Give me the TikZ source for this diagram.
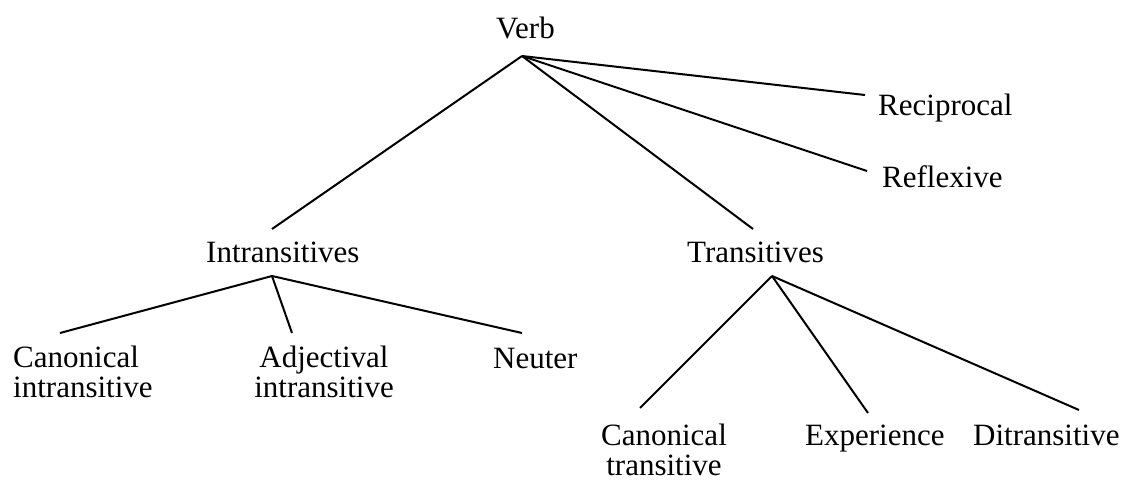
\documentclass[tikz,border=0pt]{standalone}
\usepackage{fontspec}
\setmainfont{Liberation Serif}
\begin{document}
\begin{tikzpicture}[x=1pt,y=-1pt,
  lbl/.style={inner sep=0pt, font=\fontsize{31}{30}\selectfont},
  edge/.style={line width=2pt}]
\useasboundingbox (0,0) rectangle (1126,482);
% labels
\node[lbl,anchor=base] (verb) at (525.5,38) {Verb};
\node[lbl,anchor=base west] (recip) at (878,115) {Reciprocal};
\node[lbl,anchor=base west] (refl) at (882,187) {Reflexive};
\node[lbl,anchor=base west] (intr) at (206,262) {Intransitives};
\node[lbl,anchor=base west] (trans) at (687,262) {Transitives};
\node[lbl,anchor=base west] (canint) at (13,367) {\begin{tabular}[t]{@{}l@{}}Canonical\\intransitive\end{tabular}};
\node[lbl,anchor=base] (adjint) at (324,367) {\begin{tabular}[t]{@{}c@{}}Adjectival\\intransitive\end{tabular}};
\node[lbl,anchor=base west] (neuter) at (493,368) {Neuter};
\node[lbl,anchor=base] (cantr) at (664,445) {\begin{tabular}[t]{@{}c@{}}Canonical\\transitive\end{tabular}};
\node[lbl,anchor=base west] (exper) at (805,445) {Experience};
\node[lbl,anchor=base west] (ditr) at (973,445) {Ditransitive};
% connector end points
\coordinate (v0) at (522,56);
\coordinate (intrT) at (272,229);
\coordinate (transT) at (753,229);
\coordinate (recipL) at (865,95);
\coordinate (reflL) at (867,171);
\coordinate (i0) at (272,276);
\coordinate (canintT) at (60,333);
\coordinate (adjintT) at (292,333);
\coordinate (neuterT) at (522,333);
\coordinate (t0) at (772,276);
\coordinate (cantrT) at (640,408);
\coordinate (experT) at (868,413);
\coordinate (ditrT) at (1079,410);
% connectors
\draw[edge] (v0) -- (intrT);
\draw[edge] (v0) -- (transT);
\draw[edge] (v0) -- (recipL);
\draw[edge] (v0) -- (reflL);
\draw[edge] (i0) -- (canintT);
\draw[edge] (i0) -- (adjintT);
\draw[edge] (i0) -- (neuterT);
\draw[edge] (t0) -- (cantrT);
\draw[edge] (t0) -- (experT);
\draw[edge] (t0) -- (ditrT);
\end{tikzpicture}
\end{document}
